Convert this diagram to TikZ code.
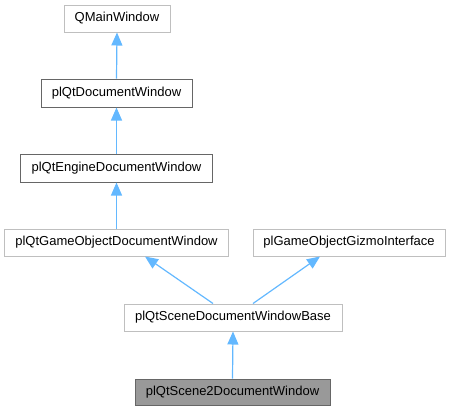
\documentclass[tikz,border=0pt]{standalone}
\usepackage{fontspec}
\setmainfont{Liberation Sans}
\usetikzlibrary{arrows.meta}
\definecolor{edgeblue}{HTML}{63B8FF}
\definecolor{lightborder}{HTML}{BFBFBF}
\definecolor{darkborder}{HTML}{666666}
\definecolor{curfill}{HTML}{999999}
\tikzset{
  cls/.style={draw=lightborder, line width=1bp, fill=white, inner sep=0pt, font=\fontsize{13bp}{15bp}\selectfont, anchor=center},
  clsdark/.style={cls, draw=darkborder},
  clscur/.style={cls, draw=darkborder, fill=curfill},
  inh/.style={draw=edgeblue, line width=1.2bp, -{Triangle[width=11bp,length=13bp]}},
}
\begin{document}
\begin{tikzpicture}[x=1bp,y=-1bp]
\useasboundingbox (0,0) rectangle (450,411);
\node[cls, minimum width=106bp, minimum height=27bp] (qm) at (117,18.5) {QMainWindow};
\node[clsdark, minimum width=151bp, minimum height=28bp] (doc) at (116.5,93) {plQtDocumentWindow};
\node[clsdark, minimum width=191bp, minimum height=28bp] (eng) at (116.5,168) {plQtEngineDocumentWindow};
\node[cls, minimum width=223bp, minimum height=27bp] (go) at (116.5,242.5) {plQtGameObjectDocumentWindow};
\node[cls, minimum width=192bp, minimum height=27bp] (giz) at (349,242.5) {plGameObjectGizmoInterface};
\node[cls, minimum width=218bp, minimum height=27bp] (base) at (233,317.5) {plQtSceneDocumentWindowBase};
\node[clscur, minimum width=195bp, minimum height=26bp] (s2) at (232.5,392) {plQtScene2DocumentWindow};
\draw[inh] (doc.north) -- (qm.south);
\draw[inh] (eng.north) -- (doc.south);
\draw[inh] (go.north) -- (eng.south);
\draw[inh] ([xshift=-20bp]base.north) -- ([xshift=28.5bp]go.south);
\draw[inh] ([xshift=20bp]base.north) -- ([xshift=-29bp]giz.south);
\draw[inh] (s2.north) -- (base.south);
\end{tikzpicture}
\end{document}
